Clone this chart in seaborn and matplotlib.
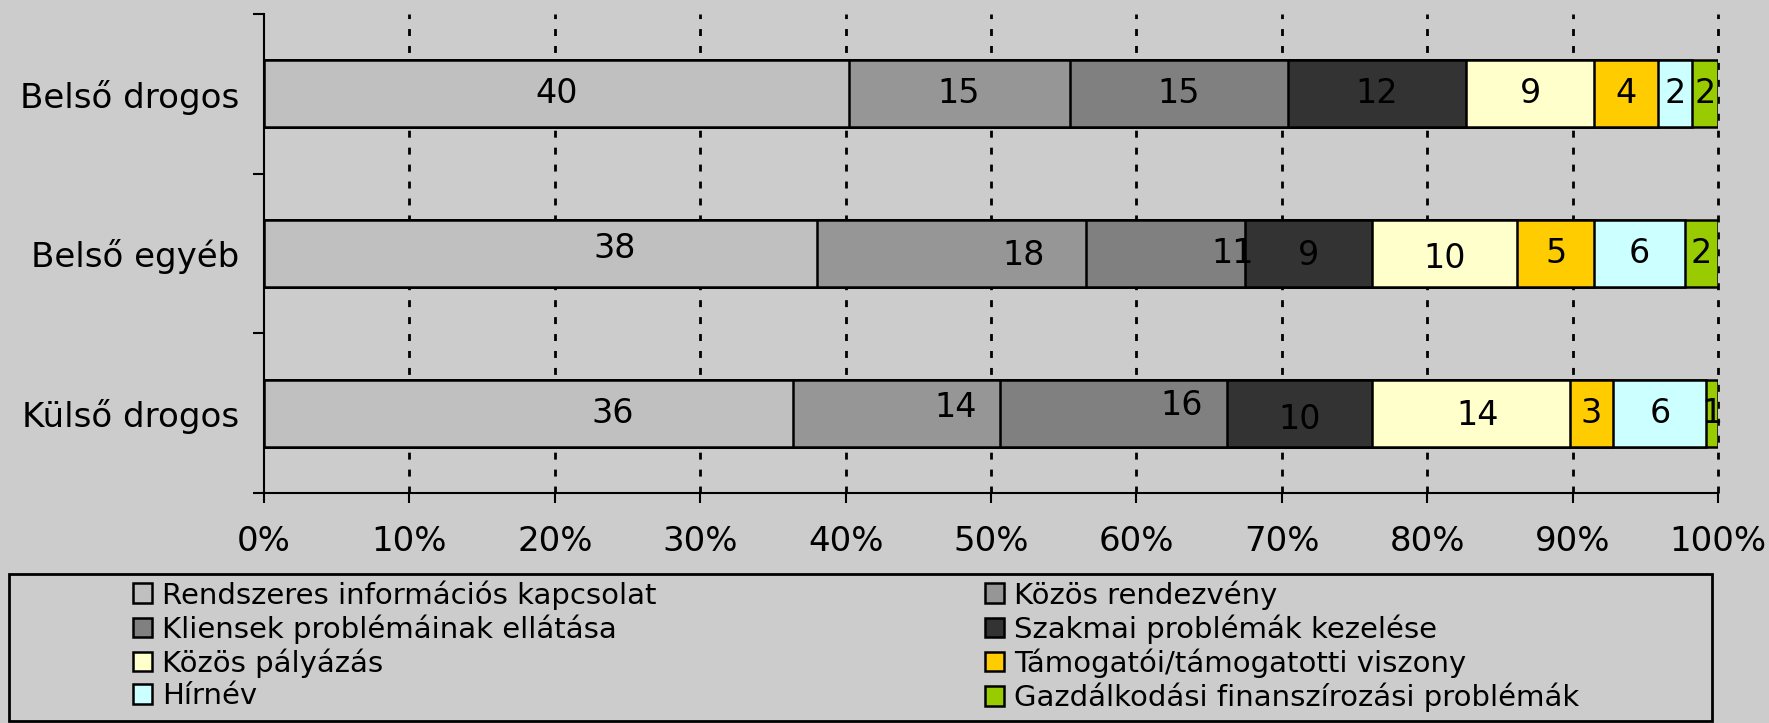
import numpy as np
import pandas as pd
import matplotlib
matplotlib.use("Agg")
import matplotlib.pyplot as plt
from matplotlib.patches import Rectangle, Patch
import seaborn as sns

# ---------------- data ----------------
categories = ["Belső drogos", "Belső egyéb", "Külső drogos"]
series_names = [
    "Rendszeres információs kapcsolat",
    "Közös rendezvény",
    "Kliensek problémáinak ellátása",
    "Szakmai problémák kezelése",
    "Közös pályázás",
    "Támogatói/támogatotti viszony",
    "Hírnév",
    "Gazdálkodási finanszírozási problémák",
]
# segment shares (percent of each bar)
belso_drogos = [40.2, 15.2, 15.0, 12.3, 8.8, 4.4, 2.3, 1.8]
belso_egyeb = [38.0, 18.5, 11.0, 8.7, 10.0, 5.3, 6.2, 2.3]
kulso_drogos = [36.4, 14.2, 15.6, 10.0, 13.6, 3.0, 6.4, 0.8]
# value labels printed on the segments
labels_belso_drogos = [40, 15, 15, 12, 9, 4, 2, 2]
labels_belso_egyeb = [38, 18, 11, 9, 10, 5, 6, 2]
labels_kulso_drogos = [36, 14, 16, 10, 14, 3, 6, 1]
x_ticks = [0, 10, 20, 30, 40, 50, 60, 70, 80, 90, 100]
x_tick_labels = [f"{v}%" for v in x_ticks]

# ---------------- style ----------------
colors = ["#C0C0C0", "#969696", "#808080", "#333333",
          "#FFFFCC", "#FFCC00", "#CCFFFF", "#99CC00"]
bg = "#CCCCCC"
# manual nudges of some value labels (percent units, category units)
nudge_dx = [[0, 0, 0, 0, 0, 0, 0, 0],
            [5.1, 5.0, 4.6, 0, 0, 0, 0, 0],
            [5.8, 4.1, 4.7, 0, 0.5, 0, 0, 0]]
nudge_dy = [[0, 0, 0, 0, 0, 0, 0, 0],
            [-0.03, 0.015, 0, 0.015, 0.03, 0, 0, 0],
            [0, -0.035, -0.05, 0.04, 0.015, 0, 0, 0]]

sns.set_style("white")
plt.rcParams["font.family"] = ["DejaVu Sans"]
plt.rcParams["text.color"] = "black"
plt.rcParams["xtick.color"] = "black"
plt.rcParams["ytick.color"] = "black"
plt.rcParams["axes.labelcolor"] = "black"

W, H = 1769, 723
fig = plt.figure(figsize=(W / 100, H / 100), dpi=100, facecolor=bg)
ax = fig.add_axes([264 / W, 1 - 493 / H, (1718 - 264) / W, (493 - 14) / H])
ax.set_facecolor(bg)

values = np.array([belso_drogos, belso_egyeb, kulso_drogos])
value_labels = [labels_belso_drogos, labels_belso_egyeb, labels_kulso_drogos]
cum = np.cumsum(values, axis=1)

# grid behind bars
for xv in x_ticks[1:]:
    ax.axvline(xv, color="black", lw=2.0, linestyle=(0, (2.5, 3.6)),
               zorder=0.5, clip_on=False)

for k in reversed(range(len(series_names))):
    df = pd.DataFrame({"cat": categories, "val": cum[:, k]})
    sns.barplot(data=df, x="val", y="cat", orient="h", color=colors[k],
                saturation=1, edgecolor="black", linewidth=1.8, width=0.42,
                errorbar=None, ax=ax, zorder=2)

# value labels
for i in range(len(categories)):
    left = 0.0
    for k in range(len(series_names)):
        w = values[i, k]
        xc = left + w / 2 + nudge_dx[i][k]
        yc = i + nudge_dy[i][k]
        ax.text(xc, yc, str(value_labels[i][k]), ha="center", va="center",
                fontsize=24, color="black", zorder=5)
        left += w

ax.set_xlim(0, 100)
ax.set_ylim(2.5, -0.5)
ax.set_xticks(x_ticks)
ax.set_xticklabels(x_tick_labels, fontsize=24.5)
ax.set_yticks([-0.5, 0.5, 1.5, 2.5])
ax.set_yticklabels([])
ax.set_yticks([0, 1, 2], minor=True)
ax.set_yticklabels(categories, minor=True, fontsize=24.5)
ax.tick_params(axis="y", which="major", direction="out", length=7.7, width=1.5,
               color="black", left=True)
ax.tick_params(axis="y", which="minor", length=0, pad=18)
ax.tick_params(axis="x", direction="out", length=7.2, width=1.5, color="black",
               pad=16, bottom=True)
ax.set_xlabel("")
ax.set_ylabel("")
for s in ["top", "right"]:
    ax.spines[s].set_visible(False)
for s in ["left", "bottom"]:
    ax.spines[s].set_color("black")
    ax.spines[s].set_linewidth(1.5)
    ax.spines[s].set_zorder(6)

# legend: frame + two columns
fig.add_artist(Rectangle((9 / W, 1 - 721 / H), (1712 - 9) / W, (721 - 574) / H,
                         transform=fig.transFigure, fill=False,
                         edgecolor="black", linewidth=2))
handles = [Patch(facecolor=c, edgecolor="black", linewidth=1.8) for c in colors]
for col, x0 in [(0, 133), (1, 985)]:
    idx = [col, col + 2, col + 4, col + 6]
    fig.legend([handles[j] for j in idx], [series_names[j] for j in idx],
               loc="upper left", bbox_to_anchor=(x0 / W, 1 - 580 / H),
               frameon=False, fontsize=21, borderpad=0, borderaxespad=0,
               handlelength=0.66, handleheight=0.66, handletextpad=0.35,
               labelspacing=0.16)

fig.savefig("out.png", dpi=100, facecolor=bg)
